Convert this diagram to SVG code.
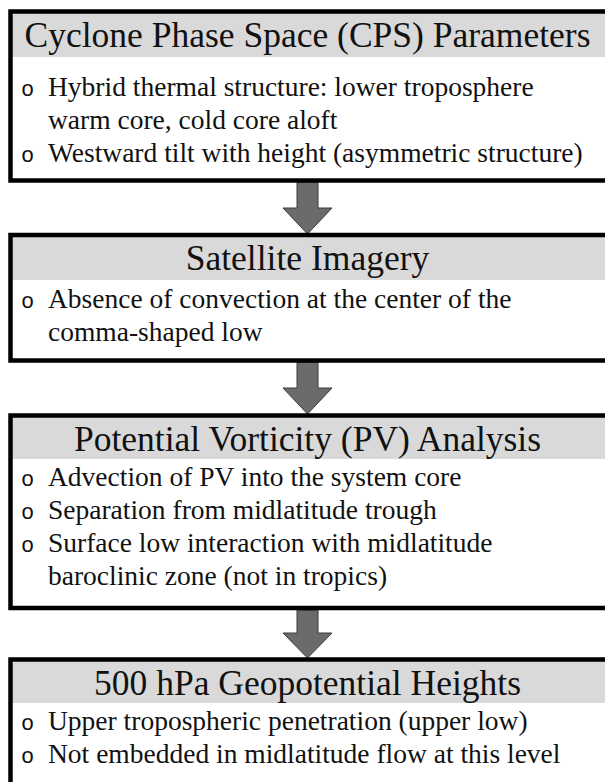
<svg xmlns="http://www.w3.org/2000/svg" width="605" height="782" viewBox="0 0 605 782">
  <style>
    .hdr { fill: #d9d9d9; stroke: none; }
    .box { fill: none; stroke: #000; stroke-width: 4.5; }
    .body { fill: #fff; stroke: none; }
    .title { font-family: "Liberation Serif", "Times New Roman", serif; font-size: 35.5px; fill: #111; text-anchor: middle; }
    .txt { font-family: "Liberation Serif", "Times New Roman", serif; font-size: 27.5px; fill: #111; }
    .bul { font-family: "Liberation Mono", "Courier New", monospace; font-size: 22px; fill: #111; }
    .arrow { fill: #6b6b6b; stroke: #3c3c3c; stroke-width: 1; }
  </style>
  <rect width="605" height="782" fill="#fff"/>

  <g id="connectors">
    <polygon class="arrow" points="297,182 318,182 318,208 332,208 307.5,234 283,208 297,208"/>
    <polygon class="arrow" points="297,362 318,362 318,388 332,388 307.5,414 283,388 297,388"/>
    <polygon class="arrow" points="297,610 318,610 318,633 332,633 307.5,658 283,633 297,633"/>
  </g>

  <g id="node-cps">
    <rect class="body" x="10.5" y="11.5" width="610" height="169"/>
    <rect class="hdr" x="10.5" y="11.5" width="610" height="45.5"/>
    <rect class="box" x="10.5" y="11.5" width="610" height="169"/>
    <text class="title" x="307.5" y="47">Cyclone Phase Space (CPS) Parameters</text>
    <text class="bul" x="21" y="96">o</text>
    <text class="txt" x="48" y="96">Hybrid thermal structure: lower troposphere</text>
    <text class="txt" x="48" y="129">warm core, cold core aloft</text>
    <text class="bul" x="21" y="162">o</text>
    <text class="txt" x="48" y="162">Westward tilt with height (asymmetric structure)</text>
  </g>

  <g id="node-satellite">
    <rect class="body" x="10.5" y="235" width="610" height="125.5"/>
    <rect class="hdr" x="10.5" y="235" width="610" height="45"/>
    <rect class="box" x="10.5" y="235" width="610" height="125.5"/>
    <text class="title" x="307.5" y="270">Satellite Imagery</text>
    <text class="bul" x="21" y="308">o</text>
    <text class="txt" x="48" y="308">Absence of convection at the center of the</text>
    <text class="txt" x="48" y="341">comma-shaped low</text>
  </g>

  <g id="node-pv">
    <rect class="body" x="10.5" y="415.5" width="610" height="192.5"/>
    <rect class="hdr" x="10.5" y="415.5" width="610" height="43.5"/>
    <rect class="box" x="10.5" y="415.5" width="610" height="192.5"/>
    <text class="title" x="307.5" y="451">Potential Vorticity (PV) Analysis</text>
    <text class="bul" x="21" y="486">o</text>
    <text class="txt" x="48" y="486">Advection of PV into the system core</text>
    <text class="bul" x="21" y="519">o</text>
    <text class="txt" x="48" y="519">Separation from midlatitude trough</text>
    <text class="bul" x="21" y="552">o</text>
    <text class="txt" x="48" y="552">Surface low interaction with midlatitude</text>
    <text class="txt" x="48" y="585">baroclinic zone (not in tropics)</text>
  </g>

  <g id="node-500hpa">
    <rect class="body" x="10.5" y="659.5" width="610" height="140"/>
    <rect class="hdr" x="10.5" y="659.5" width="610" height="43.5"/>
    <rect class="box" x="10.5" y="659.5" width="610" height="140"/>
    <text class="title" x="307.5" y="695">500 hPa Geopotential Heights</text>
    <text class="bul" x="21" y="730">o</text>
    <text class="txt" x="48" y="730">Upper tropospheric penetration (upper low)</text>
    <text class="bul" x="21" y="763">o</text>
    <text class="txt" x="48" y="763">Not embedded in midlatitude flow at this level</text>
  </g>
</svg>
